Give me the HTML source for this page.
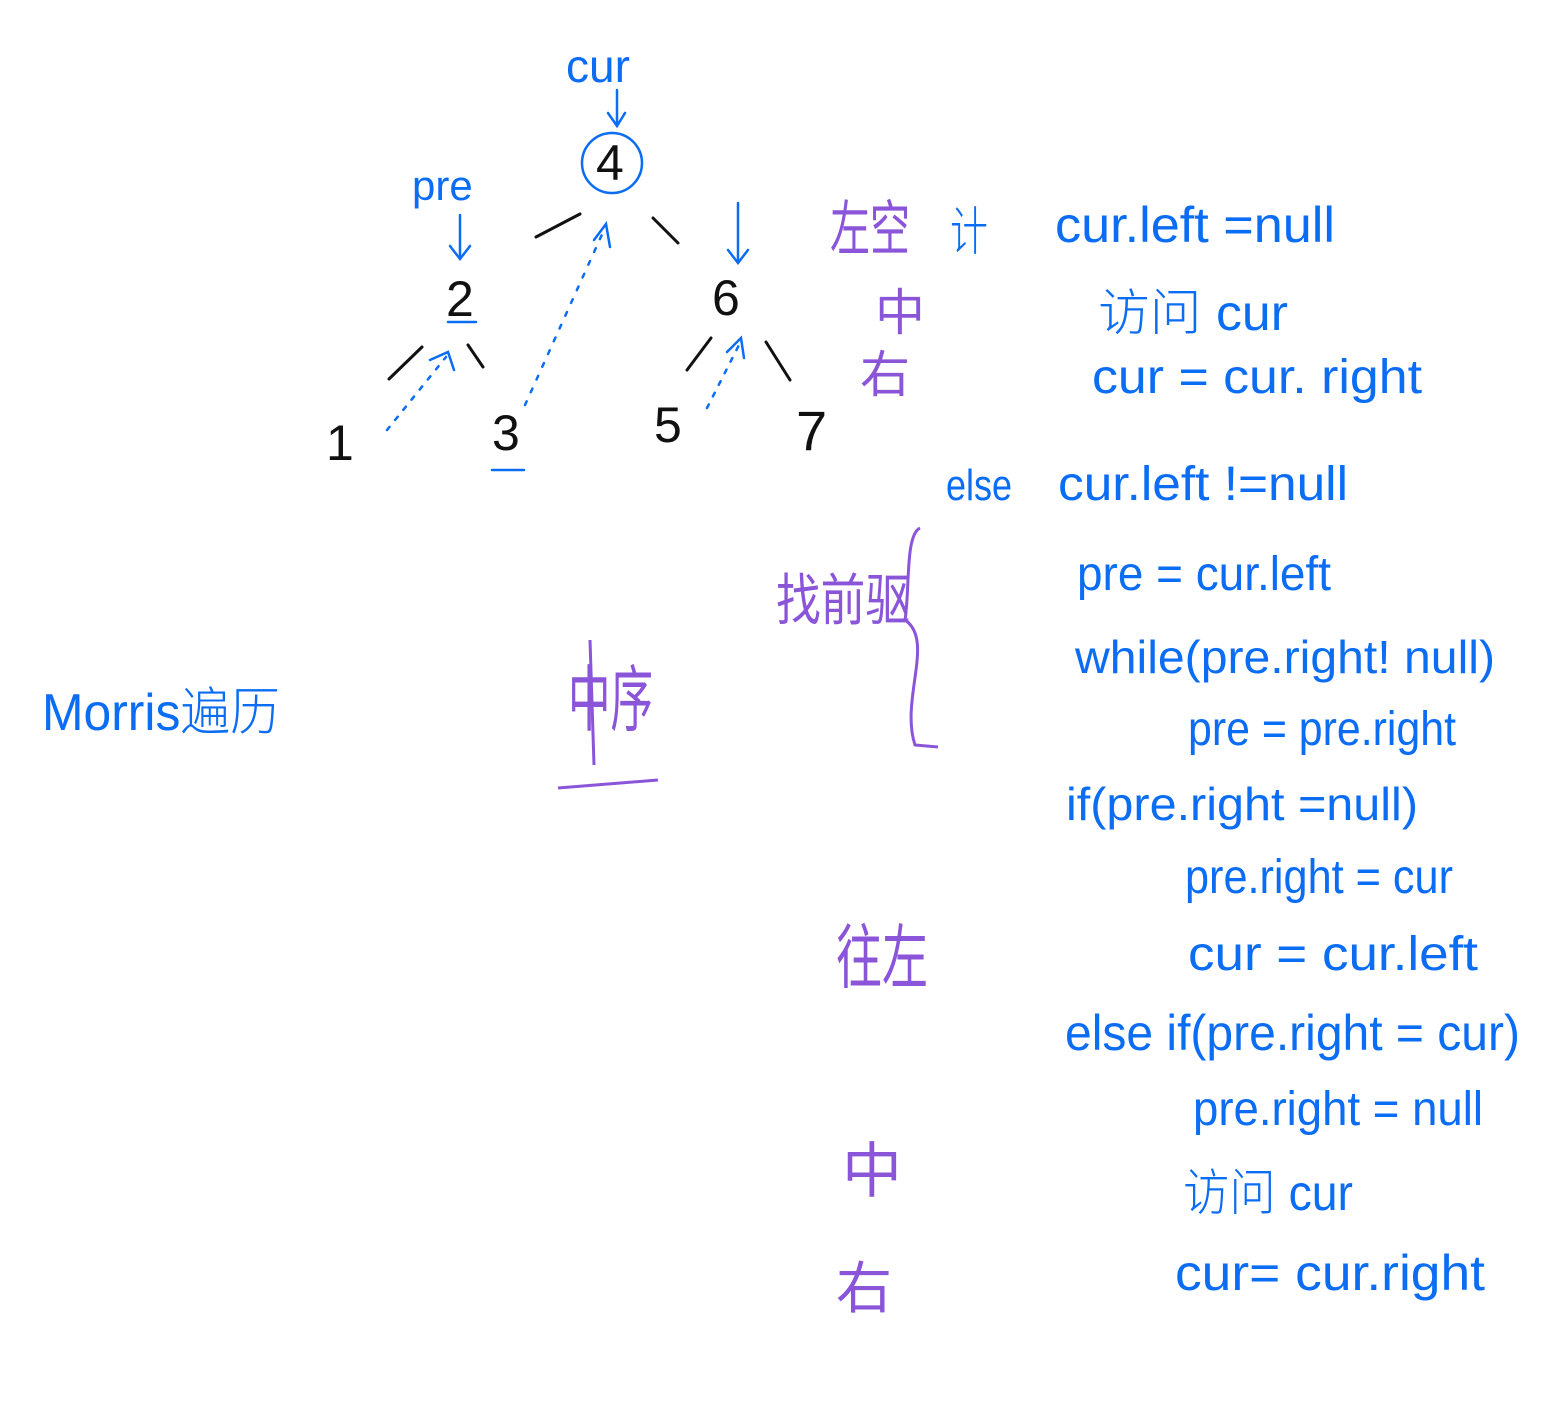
<!DOCTYPE html>
<html><head><meta charset="utf-8">
<style>
html,body{margin:0;padding:0;background:#fff;}
svg{display:block;}
.b{fill:#0b6cf4;font-family:"Liberation Sans","Noto Sans CJK SC",sans-serif;font-weight:300;}
.p{fill:#8b55d9;font-family:"Liberation Sans","Noto Sans CJK SC",sans-serif;}
.k{fill:#111;font-family:"Liberation Sans",sans-serif;}
</style></head>
<body>
<svg width="1554" height="1422" viewBox="0 0 1554 1422">
<g stroke="#111" stroke-width="3" fill="none" stroke-linecap="round">
<line x1="536" y1="237" x2="580" y2="214"/>
<line x1="653" y1="218" x2="678" y2="243"/>
<line x1="389" y1="379" x2="422" y2="347"/>
<line x1="468" y1="345" x2="483" y2="367"/>
<line x1="687" y1="370" x2="711" y2="338"/>
<line x1="766" y1="342" x2="790" y2="380"/>
</g>
<g>
<text class="k" x="596" y="180" font-size="50">4</text>
<text class="k" x="446" y="316" font-size="50">2</text>
<text class="k" x="712" y="315" font-size="50">6</text>
<text class="k" x="326" y="460" font-size="50">1</text>
<text class="k" x="492" y="450" font-size="50">3</text>
<text class="k" x="654" y="442" font-size="50">5</text>
<text class="k" x="796" y="450" font-size="56">7</text>
</g>
<g stroke="#0b6cf4" stroke-width="2.5" fill="none" stroke-linecap="round">
<circle cx="612" cy="163" r="30"/>
<line x1="617" y1="90" x2="617" y2="125"/><polyline points="608,113 617,126 625,113"/>
<line x1="460" y1="215" x2="460" y2="258"/><polyline points="450,246 460,259 470,246"/>
<line x1="738" y1="203" x2="738" y2="262"/><polyline points="728,250 738,263 748,250"/>
<line x1="448" y1="322" x2="476" y2="322"/>
<line x1="492" y1="470" x2="524" y2="470"/>
<line x1="387" y1="430" x2="446" y2="357" stroke-dasharray="4,9"/><polyline points="430,360 448,352 454,370"/>
<line x1="525" y1="405" x2="604" y2="230" stroke-dasharray="4,10"/><polyline points="594,240 606,224 610,247"/>
<line x1="707" y1="408" x2="740" y2="343" stroke-dasharray="4,9"/><polyline points="727,352 741,338 744,358"/>
</g>
<text class="b" x="566" y="82" font-size="46">cur</text>
<text class="b" x="412" y="200" font-size="42">pre</text>
<text class="b" x="42" y="730" font-size="52" textLength="238" lengthAdjust="spacingAndGlyphs">Morris遍历</text>
<text class="p" x="568" y="725" font-size="72" textLength="85" lengthAdjust="spacingAndGlyphs">中序</text>
<line x1="590" y1="640" x2="594" y2="765" stroke="#8b55d9" stroke-width="3"/>
<line x1="558" y1="788" x2="658" y2="780" stroke="#8b55d9" stroke-width="3"/>
<g>
<text class="p" x="830" y="250" font-size="60" textLength="80" lengthAdjust="spacingAndGlyphs">左空</text>
<text class="p" x="875" y="330" font-size="50">中</text>
<text class="p" x="860" y="392" font-size="50">右</text>
<text class="p" x="776" y="620" font-size="56" textLength="134" lengthAdjust="spacingAndGlyphs">找前驱</text>
<text class="p" x="836" y="982" font-size="70" textLength="92" lengthAdjust="spacingAndGlyphs">往左</text>
<text class="p" x="842" y="1192" font-size="60">中</text>
<text class="p" x="836" y="1308" font-size="56">右</text>
</g>
<path d="M920,528 C905,535 910,590 905,620 C935,640 900,700 915,745 L938,747" stroke="#8b55d9" stroke-width="3" fill="none"/>
<g>
<text class="b" x="950" y="250" font-size="52" textLength="38" lengthAdjust="spacingAndGlyphs">计</text>
<text class="b" x="1055" y="242" font-size="50" textLength="280" lengthAdjust="spacingAndGlyphs">cur.left =null</text>
<text class="b" x="1098" y="330" font-size="50" textLength="190" lengthAdjust="spacingAndGlyphs">访问 cur</text>
<text class="b" x="1092" y="393" font-size="48" textLength="330" lengthAdjust="spacingAndGlyphs">cur = cur. right</text>
<text class="b" x="946" y="500" font-size="44" textLength="66" lengthAdjust="spacingAndGlyphs">else</text>
<text class="b" x="1058" y="500" font-size="48" textLength="290" lengthAdjust="spacingAndGlyphs">cur.left  !=null</text>
<text class="b" x="1077" y="590" font-size="48" textLength="254" lengthAdjust="spacingAndGlyphs">pre = cur.left</text>
<text class="b" x="1075" y="673" font-size="46" textLength="420" lengthAdjust="spacingAndGlyphs">while(pre.right!  null)</text>
<text class="b" x="1188" y="745" font-size="48" textLength="268" lengthAdjust="spacingAndGlyphs">pre = pre.right</text>
<text class="b" x="1066" y="820" font-size="46" textLength="352" lengthAdjust="spacingAndGlyphs">if(pre.right =null)</text>
<text class="b" x="1185" y="893" font-size="48" textLength="268" lengthAdjust="spacingAndGlyphs">pre.right = cur</text>
<text class="b" x="1188" y="970" font-size="48" textLength="290" lengthAdjust="spacingAndGlyphs">cur  = cur.left</text>
<text class="b" x="1065" y="1050" font-size="50" textLength="455" lengthAdjust="spacingAndGlyphs">else  if(pre.right = cur)</text>
<text class="b" x="1193" y="1125" font-size="48" textLength="290" lengthAdjust="spacingAndGlyphs">pre.right = null</text>
<text class="b" x="1183" y="1210" font-size="50" textLength="170" lengthAdjust="spacingAndGlyphs">访问 cur</text>
<text class="b" x="1175" y="1290" font-size="50" textLength="310" lengthAdjust="spacingAndGlyphs">cur= cur.right</text>
</g>
</svg>
</body></html>
